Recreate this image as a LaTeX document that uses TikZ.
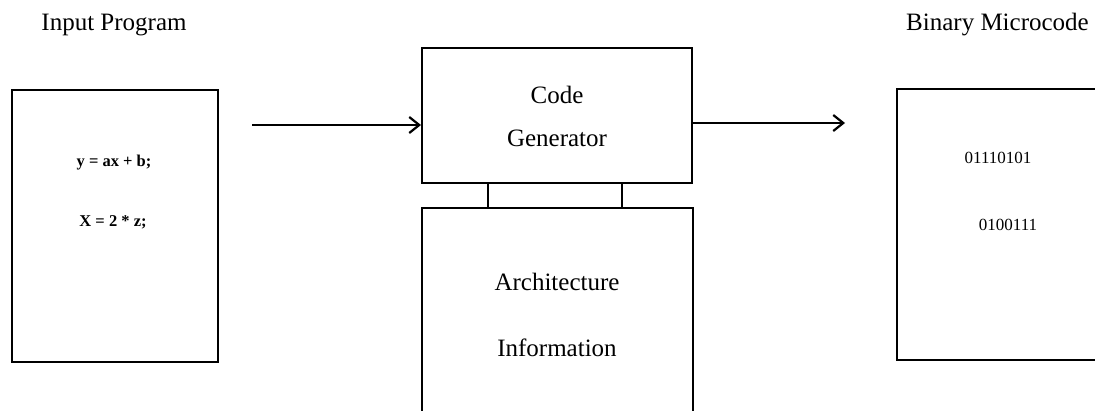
\documentclass[tikz,border=0pt]{standalone}
\usepackage{fontspec}
\setmainfont{Liberation Serif}
\usetikzlibrary{arrows.meta,calc}
\begin{document}
\begin{tikzpicture}[x=1pt,y=-1pt,
  box/.style={draw=black,line width=2pt,inner sep=0pt},
  title/.style={font=\fontsize{25}{30}\selectfont,inner sep=0pt},
  codetxt/.style={font=\fontsize{16.5}{20}\selectfont\bfseries,inner sep=0pt},
  bintxt/.style={font=\fontsize{17}{20}\selectfont,inner sep=0pt},
  flow/.style={line width=1.8pt,-{Straight Barb[length=10pt,width=16pt,line width=2.2pt]}},
  link/.style={line width=2pt}]
\useasboundingbox (0,0) rectangle (1095,410);
\clip (0,0) rectangle (1095,410);
\fill[white] (0,0) rectangle (1095,410);
% boxes
\node[box,minimum width=206pt,minimum height=272pt] (inp) at (115,226) {};
\node[box,minimum width=270pt,minimum height=135pt] (cg) at (557,115.5) {};
\node[box,minimum width=271pt,minimum height=240pt] (arch) at (557.5,328) {};
\node[box,minimum width=226pt,minimum height=271pt] (bin) at (1010,224.5) {};
% titles
\node[title] (tin) at (114,25) {Input Program};
\node[title,anchor=west] (tbin) at (906,25) {Binary Microcode};
% box texts
\node[codetxt] (c1) at (114,163) {y = ax + b;};
\node[codetxt] (c2) at (113,222) {X = 2 * z;};
\node[title] (cgt1) at (557,95) {Code};
\node[title] (cgt2) at (557,138) {Generator};
\node[title] (at1) at (557,282) {Architecture};
\node[title] (at2) at (557,348) {Information};
\node[bintxt] (b1) at (998,158) {01110101};
\node[bintxt] (b2) at (1008,225) {0100111};
% connectors
\coordinate (ain) at (252,125);
\coordinate (aout) at (845,123);
\draw[flow] (ain) -- (ain -| cg.west);
\draw[flow] (aout -| cg.east) -- (aout);
\coordinate (l1) at ($(cg.south west)+(67,0)$);
\coordinate (l2) at ($(cg.south west)+(201,0)$);
\draw[link] (l1) -- (l1 |- arch.north);
\draw[link] (l2) -- (l2 |- arch.north);
\end{tikzpicture}
\end{document}
